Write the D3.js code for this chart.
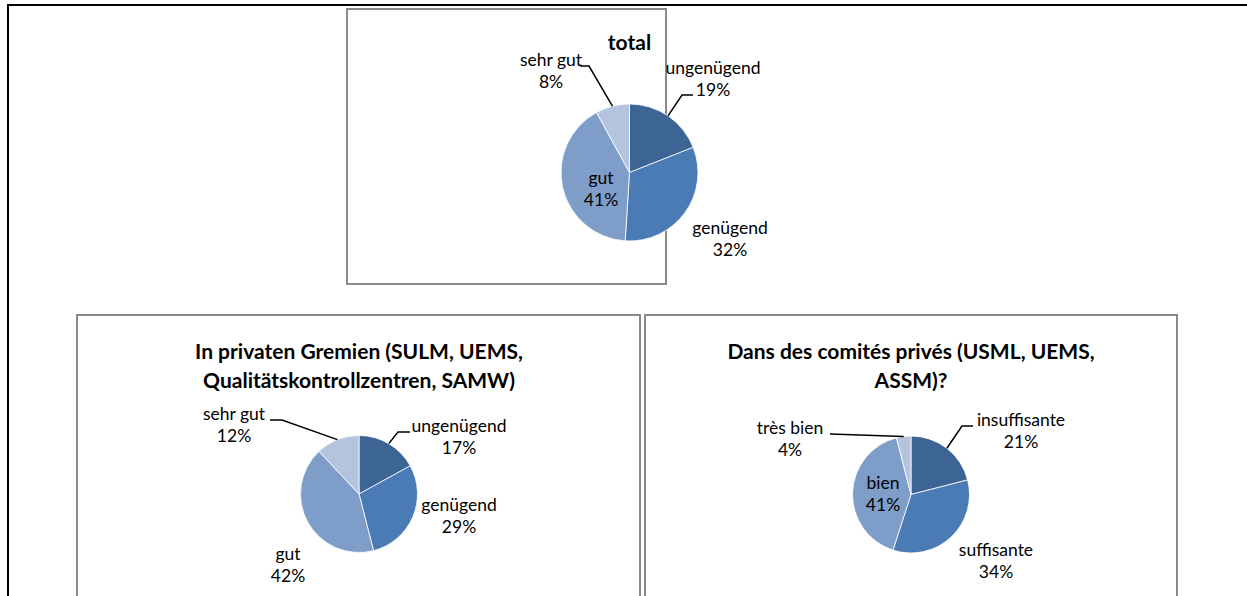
<!DOCTYPE html>
<html>
<head>
<meta charset="utf-8">
<script src="https://cdn.jsdelivr.net/npm/d3@7"></script>
<style>
  body { margin: 0; background: #fff; }
  svg { display: block; }
  text { font-family: Lato, "Open Sans", sans-serif; fill: #000; }
</style>
</head>
<body>
<script>
// categories and values (clockwise from 12 o'clock)
var categoriesDe = ["ungenügend", "genügend", "gut", "sehr gut"];
var categoriesFr = ["insuffisante", "suffisante", "bien", "très bien"];
var totalValues = [19, 32, 41, 8];
var privateDeValues = [17, 29, 42, 12];
var privateFrValues = [21, 34, 41, 4];
var titleTotal = ["total"];
var titleDe = ["In privaten Gremien (SULM, UEMS,", "Qualitätskontrollzentren, SAMW)"];
var titleFr = ["Dans des comités privés (USML, UEMS,", "ASSM)?"];

var colors = ["#3c6494", "#4a7bb5", "#7f9dc9", "#b4c3de"];

var width = 1247, height = 596;

var svg = d3.select("body").append("svg")
    .attr("width", width)
    .attr("height", height);

// outer page frame
svg.append("path")
    .attr("d", "M8,596 L8,5 L1247,5")
    .attr("fill", "none")
    .attr("stroke", "#000")
    .attr("stroke-width", 2);

// layout for each chart: box, pie centre, title baselines, label anchors
var charts = [
    {
        cats: categoriesDe, values: totalValues, title: titleTotal,
        box: [347, 9, 319, 275], cx: 629.5, cy: 172.5, r: 68.5, titleY: 50,
        labels: [
            {x: 713, y: 74, leader: [[693, 95], [682, 95]]},
            {x: 730, y: 234},
            {x: 601, y: 184},
            {x: 551, y: 66, leader: [[580, 66], [589, 66]]}
        ]
    },
    {
        cats: categoriesDe, values: privateDeValues, title: titleDe,
        box: [77, 315, 563, 300], cx: 359, cy: 494, r: 58.5, titleY: 359,
        labels: [
            {x: 459, y: 432, leader: [[410, 432], [398, 432]]},
            {x: 459, y: 511},
            {x: 288, y: 560},
            {x: 234, y: 420, leader: [[270, 420], [282, 420]]}
        ]
    },
    {
        cats: categoriesFr, values: privateFrValues, title: titleFr,
        box: [645, 315, 532, 300], cx: 911, cy: 494.5, r: 58.5, titleY: 359,
        labels: [
            {x: 1021, y: 426, leader: [[973, 426], [962, 426]]},
            {x: 996, y: 556},
            {x: 883, y: 489},
            {x: 790, y: 434, leader: [[830, 434]]}
        ]
    }
];

var pie = d3.pie().sort(null).value(function(d) { return d; });

charts.forEach(function(c) {
    var g = svg.append("g");

    g.append("rect")
        .attr("x", c.box[0]).attr("y", c.box[1])
        .attr("width", c.box[2]).attr("height", c.box[3])
        .attr("fill", "#fff")
        .attr("stroke", "#8a8a8a")
        .attr("stroke-width", 2);

    var titleX = c.cx;
    g.selectAll(".title")
        .data(c.title)
        .enter().append("text")
        .attr("class", "title")
        .attr("x", titleX)
        .attr("y", function(d, i) { return c.titleY + i * 29; })
        .attr("text-anchor", "middle")
        .attr("font-size", 21)
        .attr("font-weight", "bold")
        .text(function(d) { return d; });

    var arc = d3.arc().innerRadius(0).outerRadius(c.r);
    var edge = d3.arc().innerRadius(c.r).outerRadius(c.r);
    var arcs = pie(c.values);

    var pg = g.append("g").attr("transform", "translate(" + c.cx + "," + c.cy + ")");
    pg.selectAll("path")
        .data(arcs)
        .enter().append("path")
        .attr("d", arc)
        .attr("fill", function(d, i) { return colors[i]; })
        .attr("stroke", "#fff")
        .attr("stroke-width", 0.8);

    // leader lines from the slice edge to the label
    arcs.forEach(function(d, i) {
        var lab = c.labels[i];
        if (!lab.leader) return;
        var p = edge.centroid(d);
        var pts = lab.leader.concat([[c.cx + p[0], c.cy + p[1]]]);
        g.append("path")
            .attr("d", d3.line()(pts))
            .attr("fill", "none")
            .attr("stroke", "#000")
            .attr("stroke-width", 1.5);
    });

    arcs.forEach(function(d, i) {
        var lab = c.labels[i];
        var t = g.append("text")
            .attr("text-anchor", "middle")
            .attr("font-size", 17.5);
        t.append("tspan").attr("x", lab.x).attr("y", lab.y).text(c.cats[i]);
        t.append("tspan").attr("x", lab.x).attr("y", lab.y + 22).text(c.values[i] + "%");
    });
});
</script>
</body>
</html>
